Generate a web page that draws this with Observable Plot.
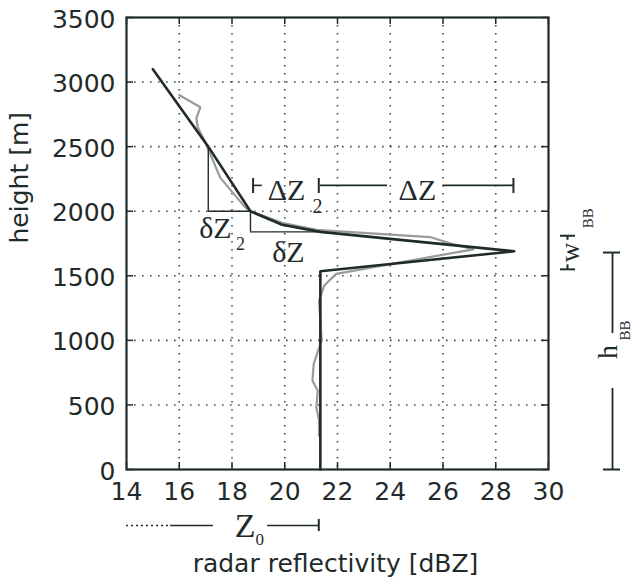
<!DOCTYPE html>
<html><head><meta charset="utf-8">
<script src="https://cdn.jsdelivr.net/npm/d3@7"></script>
<script src="https://cdn.jsdelivr.net/npm/@observablehq/plot@0.6"></script>
<style>body{margin:0;background:#fff}</style>
</head><body><div id="chart"></div>
<script>
// ---- data ----
const xTicks = [14, 16, 18, 20, 22, 24, 26, 28, 30];
const yTicks = [0, 500, 1000, 1500, 2000, 2500, 3000, 3500];
// model (black) profile
const modelZ = [15.0, 17.1, 18.7, 19.9, 21.35, 28.7, 21.35, 21.35];
const modelH = [3100, 2500, 2000, 1895, 1840, 1690, 1535, 0];
// observed (grey) profile
const obsZ = [16.0, 16.8, 16.65, 16.7, 17.0, 17.55, 18.5, 18.7, 19.9, 21.2, 25.5, 26.3, 27.15, 21.95, 21.5, 21.3, 21.4, 21.1, 21.05, 21.25, 21.2, 21.3, 21.3];
const obsH = [2900, 2805, 2720, 2650, 2530, 2260, 2030, 2000, 1910, 1855, 1800, 1750, 1705, 1515, 1425, 1310, 1000, 820, 690, 610, 480, 380, 260];
// annotation values
const zTop2 = 17.1, hTop2 = 2500;     // top of dZ2 step
const zTop = 18.7, hTop = 2000;       // top of bright band
const z0 = 21.35, hBase = 1840;       // Z0 and dZ step
const zPeak = 28.7, hPeak = 1680;     // peak
const hDelta = 2200;                  // height of the Delta Z brackets
const wTop = 1810, wBot = 1550;       // W_BB extent

const ink = "#1f2b2b";
const model = modelZ.map((z, i) => ({z, h: modelH[i]}));
const obs = obsZ.map((z, i) => ({z, h: obsH[i]}));

const serif = "Liberation Serif";
const anno = {ariaLabel: "anno", fontFamily: serif, fill: ink};

const chart = Plot.plot({
  width: 637, height: 578,
  marginLeft: 126, marginRight: 89, marginTop: 17, marginBottom: 109,
  x: {domain: [14, 30]},
  y: {domain: [0, 3500]},
  style: {fontFamily: "DejaVu Sans", color: ink, background: "#fff", overflow: "visible"},
  marks: [
    Plot.ruleX(xTicks.slice(1, -1), {stroke: ink, strokeDasharray: "1.6,6.4", strokeWidth: 1.6, strokeOpacity: 0.85}),
    Plot.ruleY(yTicks.slice(1, -1), {stroke: ink, strokeDasharray: "1.6,6.4", strokeWidth: 1.6, strokeOpacity: 0.85}),
    // inward ticks
    Plot.tickX(xTicks, {x: d => d, insetTop: 445, stroke: ink, strokeWidth: 1.5}),
    Plot.tickX(xTicks, {x: d => d, insetBottom: 445, stroke: ink, strokeWidth: 1.5}),
    Plot.tickY(yTicks, {y: d => d, insetRight: 415, stroke: ink, strokeWidth: 1.5}),
    Plot.tickY(yTicks, {y: d => d, insetLeft: 415, stroke: ink, strokeWidth: 1.5}),
    // profiles
    Plot.line(obs, {x: "z", y: "h", stroke: "#9a9a9a", strokeWidth: 2.2}),
    Plot.line(model, {x: "z", y: "h", stroke: ink, strokeWidth: 2.6}),
    // dZ2 and dZ steps
    Plot.ruleX([zTop2], {y1: hTop, y2: hTop2, stroke: ink, strokeWidth: 1.4}),
    Plot.ruleY([hTop], {x1: zTop2, x2: zTop, stroke: ink, strokeWidth: 1.4}),
    Plot.ruleX([zTop], {y1: hBase, y2: hTop, stroke: ink, strokeWidth: 1.4}),
    Plot.ruleY([hBase], {x1: zTop, x2: z0, stroke: ink, strokeWidth: 1.4}),
    // Delta Z brackets
    Plot.ruleY([[18.8, 19.15], [z0, 23.9], [26.0, zPeak]], {y: hDelta, x1: d => d[0], x2: d => d[1], stroke: ink, strokeWidth: 1.6}),
    Plot.tickX([18.8, z0 - 0.06, zPeak - 0.03], {x: d => d, insetTop: 161, insetBottom: 276, stroke: ink, strokeWidth: 2}),
    // Z0 bracket below the axis
    Plot.ruleY([[14, 15.67]], {y: 0, dy: 56, x1: d => d[0], x2: d => d[1], stroke: ink, strokeWidth: 1.6, strokeDasharray: "2,3"}),
    Plot.ruleY([[15.67, 17.3], [19.35, z0 - 0.06]], {y: 0, dy: 56, x1: d => d[0], x2: d => d[1], stroke: ink, strokeWidth: 1.6}),
    Plot.tickX([z0 - 0.06], {x: d => d, insetTop: 502, insetBottom: -62, stroke: ink, strokeWidth: 2}),
    // W_BB bracket
    Plot.tickY([wTop, wBot], {y: d => d, insetLeft: 434, insetRight: -27, stroke: ink, strokeWidth: 2}),
    Plot.ruleX([[wTop, wTop - 35], [wBot, wBot + 35]], {x: 30, dx: 19, y1: d => d[0], y2: d => d[1], stroke: ink, strokeWidth: 2}),
    // h_BB bracket
    Plot.tickY([hPeak, 0], {y: d => d, insetLeft: 477, insetRight: -72, stroke: ink, strokeWidth: 2}),
    Plot.ruleX([[hPeak, 1053], [627, 0]], {x: 30, dx: 64, y1: d => d[0], y2: d => d[1], stroke: ink, strokeWidth: 1.8}),
    // annotation texts
    Plot.text(["δZ"], {...anno, x: 17.37, y: 1789, text: d => d, lineAnchor: "bottom", fontSize: 30}),
    Plot.text(["2"], {...anno, x: 18.32, y: 1696, text: d => d, lineAnchor: "bottom", fontSize: 18}),
    Plot.text(["δZ"], {...anno, x: 20.14, y: 1603, text: d => d, lineAnchor: "bottom", fontSize: 30}),
    Plot.text(["ΔZ"], {...anno, x: 20.07, y: 2083, text: d => d, lineAnchor: "bottom", fontSize: 30}),
    Plot.text(["2"], {...anno, x: 21.24, y: 1990, text: d => d, lineAnchor: "bottom", fontSize: 20}),
    Plot.text(["ΔZ"], {...anno, x: 25.03, y: 2083, text: d => d, lineAnchor: "bottom", fontSize: 30}),
    Plot.text(["Z"], {...anno, x: 18.5, y: 0, dy: 67, text: d => d, lineAnchor: "bottom", fontSize: 34}),
    Plot.text(["0"], {...anno, x: 19.05, y: 0, dy: 75, text: d => d, lineAnchor: "bottom", fontSize: 17}),
    Plot.text(["w"], {...anno, x: 30, dx: 22, y: 1680, text: d => d, rotate: -90, fontSize: 27}),
    Plot.text(["BB"], {...anno, x: 30, dx: 40, y: 1945, text: d => d, rotate: -90, fontSize: 15}),
    Plot.text(["h"], {...anno, x: 30, dx: 60, y: 910, text: d => d, rotate: -90, fontSize: 28}),
    Plot.text(["BB"], {...anno, x: 30, dx: 77, y: 1076, text: d => d, rotate: -90, fontSize: 15}),
    // axes
    Plot.axisX({ticks: xTicks, tickSize: 0, tickPadding: 13, fontSize: 25, label: null, tickFormat: d => String(d)}),
    Plot.axisY({ticks: yTicks, tickSize: 0, tickPadding: 11, fontSize: 25, label: null, dy: 2, tickFormat: d => String(d)}),
    Plot.text(["radar reflectivity [dBZ]"], {frameAnchor: "bottom", dy: 102, dx: -2, lineAnchor: "bottom", fontSize: 25, text: d => d, fill: ink}),
    Plot.text(["height [m]"], {frameAnchor: "left", dx: -107, rotate: -90, fontSize: 25, text: d => d, fill: ink}),
    Plot.frame({stroke: ink, strokeWidth: 2.2})
  ]
});
document.getElementById("chart").appendChild(chart);

// widen the serif annotation glyphs like the original figure
const targetLen = {"ΔZ": 47, "δZ": 40, "Z": 36, "w": 26, "h": 27};
d3.select(chart).selectAll('g[aria-label="anno"] text').each(function () {
  const t = this.textContent;
  if (targetLen[t]) d3.select(this).attr("textLength", targetLen[t]).attr("lengthAdjust", "spacingAndGlyphs");
});
</script>
</body></html>
